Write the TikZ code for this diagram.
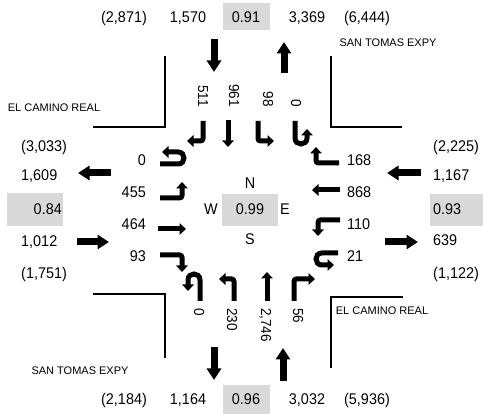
\documentclass[tikz,border=0pt]{standalone}
\usepackage{fontspec}
\setmainfont{Liberation Sans}
\newfontfamily\narrowsans{Liberation Sans}[FakeStretch=0.93]
\usetikzlibrary{arrows.meta}
\definecolor{boxgray}{RGB}{217,217,217}
\tikzset{
  num/.style={inner sep=0pt, font=\narrowsans\fontsize{15.5}{18}\selectfont},
  rnum/.style={inner sep=0pt, font=\narrowsans\fontsize{14.5}{17}\selectfont, rotate=-90},
  street/.style={inner sep=0pt, font=\fontsize{11}{13}\selectfont, anchor=base},
  gbox/.style={fill=boxgray, draw=none},
  curb/.style={line width=1.4pt, black},
  turn/.style={line width=5pt, rounded corners=2.5pt, -{Triangle[length=6.5pt,width=11.5pt]}},
  uturn/.style={line width=5pt, -{Triangle[length=6.5pt,width=11.5pt]}},
  appr/.style={line width=7pt, -{Triangle[length=11.5pt,width=14pt]}}
}
\begin{document}
\begin{tikzpicture}[x=1pt,y=-1pt]
\useasboundingbox (0,0) rectangle (483,414);
% gray boxes
\fill[gbox] (223,3) rectangle (270,30);
\fill[gbox] (223,385) rectangle (270,414);
\fill[gbox] (7,193) rectangle (63,226);
\fill[gbox] (430,194) rectangle (483,226);
\fill[gbox] (222,194) rectangle (278,226);
% top row
\node[num,anchor=base] (tA) at (124,23) {(2,871)};
\node[num,anchor=base] (tB) at (188,23) {1,570};
\node[num,anchor=base] (tC) at (246,23) {0.91};
\node[num,anchor=base] (tD) at (307,23) {3,369};
\node[num,anchor=base] (tE) at (367,23) {(6,444)};
% bottom row
\node[num,anchor=base] (bA) at (124,405) {(2,184)};
\node[num,anchor=base] (bB) at (188,405) {1,164};
\node[num,anchor=base] (bC) at (246,405) {0.96};
\node[num,anchor=base] (bD) at (307,405) {3,032};
\node[num,anchor=base] (bE) at (367,405) {(5,936)};
% left column
\node[num,anchor=base west] (lA) at (21,152) {(3,033)};
\node[num,anchor=base west] (lB) at (21,181) {1,609};
\node[num,anchor=base east] (lC) at (62,215) {0.84};
\node[num,anchor=base west] (lD) at (21,247) {1,012};
\node[num,anchor=base west] (lE) at (21,279) {(1,751)};
% right column
\node[num,anchor=base west] (rA) at (433,152) {(2,225)};
\node[num,anchor=base west] (rB) at (433,181) {1,167};
\node[num,anchor=base west] (rC) at (433,215) {0.93};
\node[num,anchor=base west] (rD) at (433,246) {639};
\node[num,anchor=base west] (rE) at (433,279) {(1,122)};
% center
\node[num,anchor=base] (cN) at (250,189) {N};
\node[num,anchor=base] (cW) at (211,215) {W};
\node[num,anchor=base] (cV) at (250,215) {0.99};
\node[num,anchor=base] (cE) at (285,215) {E};
\node[num,anchor=base] (cS) at (250,245) {S};
% street names
\node[street] (s1) at (388,47) {SAN TOMAS EXPY};
\node[street] (s2) at (54,112) {EL CAMINO REAL};
\node[street] (s3) at (382,315) {EL CAMINO REAL};
\node[street] (s4) at (80,375) {SAN TOMAS EXPY};
% curbs
\draw[curb] (93,127) -- (165,127) -- (165,56);
\draw[curb] (402,127) -- (331,127) -- (331,56);
\draw[curb] (93,294) -- (165,294) -- (165,358);
\draw[curb] (403,297) -- (331,297) -- (331,368);
% approach arrows
\draw[appr] (214,39) -- (214,72);
\draw[appr] (284,73) -- (284,42);
\draw[appr] (111,173) -- (78,173);
\draw[appr] (77,242) -- (109,242);
\draw[appr] (421,173) -- (387,173);
\draw[appr] (385,242) -- (418,242);
\draw[appr] (214,347) -- (214,380);
\draw[appr] (283,381) -- (283,348);
% southbound turn counts
\node[rnum,anchor=base east] (n1) at (198,107) {511};
\node[rnum,anchor=base east] (n2) at (229,107) {961};
\node[rnum,anchor=base east] (n3) at (263,107) {98};
\node[rnum,anchor=base east] (n4) at (291,107) {0};
% northbound turn counts
\node[rnum,anchor=base west] (s5) at (194,308) {0};
\node[rnum,anchor=base west] (s6) at (227,308) {230};
\node[rnum,anchor=base west] (s7) at (261,308) {2,746};
\node[rnum,anchor=base west] (s8) at (293,308) {56};
% eastbound turn counts
\node[num,anchor=base east] (w1) at (146,166) {0};
\node[num,anchor=base east] (w2) at (146,198) {455};
\node[num,anchor=base east] (w3) at (146,230) {464};
\node[num,anchor=base east] (w4) at (146,262) {93};
% westbound turn counts
\node[num,anchor=base west] (e1) at (347,166) {168};
\node[num,anchor=base west] (e2) at (347,198) {868};
\node[num,anchor=base west] (e3) at (347,230) {110};
\node[num,anchor=base west] (e4) at (347,262) {21};
% southbound turn arrows
\draw[turn] (203,121) -- (203,141) -- (187,141);
\draw[turn] (228,120) -- (228,147);
\draw[turn] (258,121) -- (258,141) -- (274,141);
\draw[uturn] (295,121) -- (295,138) .. controls (295,146) and (307,146) .. (307,138) -- (307,129);
% eastbound turn arrows
\draw[uturn] (160,164) -- (178,164) .. controls (186,164) and (186,152) .. (178,152) -- (162,152);
\draw[turn] (160,198) -- (182,198) -- (182,182);
\draw[turn] (158,229) -- (186,229);
\draw[turn] (160,255) -- (182,255) -- (182,272);
% westbound turn arrows
\draw[turn] (339,163) -- (316,163) -- (316,147);
\draw[turn] (340,190) -- (312,190);
\draw[turn] (340,220) -- (318,220) -- (318,236);
\draw[uturn] (338,253) -- (322,253) .. controls (314,253) and (314,265) .. (322,265) -- (334,265);
% northbound turn arrows
\draw[uturn] (200,301) -- (200,280) .. controls (200,272) and (188,272) .. (188,280) -- (188,291);
\draw[turn] (234,301) -- (234,279) -- (219,279);
\draw[turn] (267,301) -- (267,272);
\draw[turn] (294,301) -- (294,279) -- (315,279);
\end{tikzpicture}
\end{document}
